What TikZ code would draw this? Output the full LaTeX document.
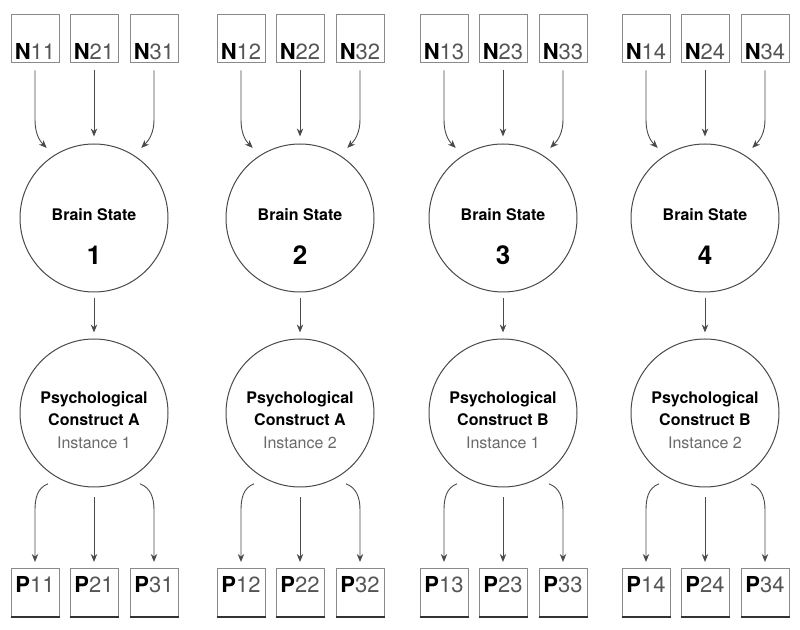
\documentclass[tikz,border=0pt]{standalone}
\usepackage{fontspec}
\setmainfont{TeX Gyre Heros}
\usetikzlibrary{arrows.meta}
\definecolor{box-gray}{HTML}{8A8A8A}
\definecolor{line-gray}{HTML}{4A4A4A}
\definecolor{digit-gray}{HTML}{555555}
\definecolor{inst-gray}{HTML}{6A6A6A}
\newcommand{\drawGroup}[4]{
	% #1 group, #2 x of middle column, #3 construct, #4 instance
	\node[nbox] (n1#1) at ({#2-59},39) {\textbf{N}\textcolor{digit-gray}{1#1}};
	\node[nbox] (n2#1) at (#2,39)      {\textbf{N}\textcolor{digit-gray}{2#1}};
	\node[nbox] (n3#1) at ({#2+60},39) {\textbf{N}\textcolor{digit-gray}{3#1}};

	\node[state] (bs#1) at (#2,218) {};
	\node[statetext] (bst#1) at ([yshift=1.5pt]bs#1.center) {Brain State};
	\node[statenum] (bsn#1) at ([yshift=-18.5pt]bs#1.center) {#1};

	\node[state] (pc#1) at (#2,413) {};
	\node[pctext] (pct#1) at ([yshift=-3.5pt]pc#1.center)
		{\textbf{Psychological}\\\textbf{Construct #3}\\\textcolor{inst-gray}{Instance #4}};

	\node[pbox] (p1#1) at ({#2-59},592.5) {\textbf{P}\textcolor{digit-gray}{1#1}};
	\node[pbox] (p2#1) at (#2,592.5)      {\textbf{P}\textcolor{digit-gray}{2#1}};
	\node[pbox] (p3#1) at ({#2+60},592.5) {\textbf{P}\textcolor{digit-gray}{3#1}};
	\draw[pedge] (p1#1.south west) -- (p1#1.south east);
	\draw[pedge] (p2#1.south west) -- (p2#1.south east);
	\draw[pedge] (p3#1.south west) -- (p3#1.south east);

	% inputs
	\draw[arr] ([yshift=-3.5pt]n1#1.south) -- ([yshift=-28pt]n1#1.south) to[out=-90,in=135] ([shift={(124:5pt)}]bs#1.124);
	\draw[arr] ([yshift=-3.5pt]n2#1.south) -- ([yshift=3.5pt]bs#1.north);
	\draw[arr] ([yshift=-3.5pt]n3#1.south) -- ([yshift=-28pt]n3#1.south) to[out=-90,in=45] ([shift={(56:5pt)}]bs#1.56);

	\draw[arr] ([yshift=-3pt]bs#1.south) -- ([yshift=3pt]pc#1.north);

	% outputs
	\draw[arr] ([shift={(237:5pt)}]pc#1.237) to[out=200,in=90] ([yshift=29pt]p1#1.north) -- ([yshift=3pt]p1#1.north);
	\draw[arr] ([yshift=-5pt]pc#1.south) -- ([yshift=3pt]p2#1.north);
	\draw[arr] ([shift={(303:5pt)}]pc#1.303) to[out=-20,in=90] ([yshift=29pt]p3#1.north) -- ([yshift=3pt]p3#1.north);
}

\begin{document}
\begin{tikzpicture}[x=0.5pt, y=-0.5pt,
	nbox/.style={draw=box-gray, line width=0.5pt, minimum width=24pt, inner xsep=0pt, inner ysep=0.5pt,
		text height=22pt, text depth=1pt, font=\fontsize{11}{13}\selectfont},
	pbox/.style={nbox, text height=11.5pt, text depth=11.5pt},
	pedge/.style={draw=black!80, line width=1.1pt},
	state/.style={circle, draw=line-gray, line width=0.5pt, minimum size=74pt, inner sep=0pt},
	statetext/.style={font=\fontsize{8}{10}\selectfont\bfseries, inner sep=0pt},
	statenum/.style={font=\fontsize{13}{15}\selectfont\bfseries, inner sep=0pt},
	pctext/.style={align=center, font=\fontsize{8}{11.25}\selectfont, inner sep=0pt},
	arr/.style={draw=line-gray, line width=0.45pt, -{Stealth[length=4pt,width=3.2pt]}}]

	\useasboundingbox (0,0) rectangle (800,630);

	\drawGroup{1}{94} {A}{1}
	\drawGroup{2}{300}{A}{2}
	\drawGroup{3}{503}{B}{1}
	\drawGroup{4}{705}{B}{2}

\end{tikzpicture}
\end{document}
